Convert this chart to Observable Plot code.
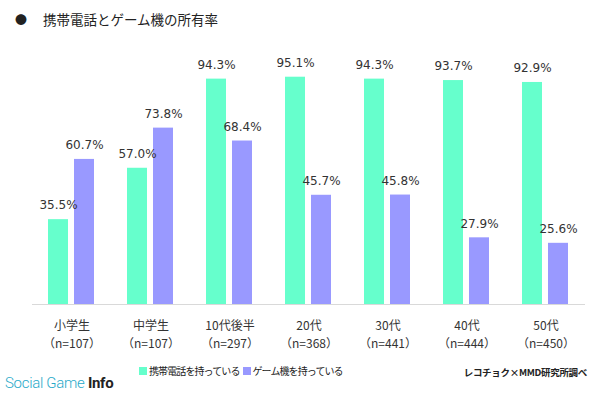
<!DOCTYPE html>
<html>
<head>
<meta charset="utf-8">
<script src="https://cdn.jsdelivr.net/npm/d3@7"></script>
<script src="https://cdn.jsdelivr.net/npm/@observablehq/plot@0.6"></script>
<style>
  html, body { margin: 0; padding: 0; background: #fff; }
  body { width: 600px; height: 395px; position: relative; overflow: hidden; font-family: "Noto Sans CJK JP", sans-serif; color: #222; }
  #title { position: absolute; left: 15px; top: 9px; font-size: 13.5px; line-height: 20px; white-space: nowrap; }
  #title .dot { display: inline-block; width: 28px; font-size: 12px; }
  #chart { position: absolute; left: 0; top: 40px; }
  #legend { position: absolute; left: 139px; top: 363px; font-size: 10px; letter-spacing: -0.9px; line-height: 16px; white-space: nowrap; display: flex; align-items: center; }
  #legend .sw { display: inline-block; width: 8px; height: 8px; margin-right: 2px; }
  #legend .item { display: inline-flex; align-items: center; margin-right: 3px; }
  #source { position: absolute; right: 13px; top: 364px; font-size: 9.5px; letter-spacing: -0.3px; font-weight: bold; line-height: 16px; white-space: nowrap; color: #222; }
  #wm { position: absolute; left: 5px; top: 373px; font-family: Roboto, "Liberation Sans", sans-serif; font-size: 15px; letter-spacing: -0.3px; line-height: 20px; white-space: nowrap; }
  #wm .a { color: #27a9c9; font-weight: 300; }
  #wm .b { color: #222; font-weight: 700; }
</style>
</head>
<body>
<div id="title"><span class="dot">●</span>携帯電話とゲーム機の所有率</div>
<div id="chart"></div>
<div id="legend"></div>
<div id="source">レコチョク×MMD研究所調べ</div>
<div id="wm"><span class="a">Social Game </span><span class="b">Info</span></div>
<script>
const categories = ["小学生", "中学生", "10代後半", "20代", "30代", "40代", "50代"];
const sampleSizes = ["（n=107）", "（n=107）", "（n=297）", "（n=368）", "（n=441）", "（n=444）", "（n=450）"];
const seriesNames = ["携帯電話を持っている", "ゲーム機を持っている"];
const phoneValues = [35.5, 57.0, 94.3, 95.1, 94.3, 93.7, 92.9];
const gameValues = [60.7, 73.8, 68.4, 45.7, 45.8, 27.9, 25.6];
const seriesColors = ["#66FFCC", "#9999FF"];

const data = [];
categories.forEach((c, i) => {
  data.push({cat: c, series: seriesNames[0], value: phoneValues[i]});
  data.push({cat: c, series: seriesNames[1], value: gameValues[i]});
});
const nMap = new Map(categories.map((c, i) => [c, sampleSizes[i]]));

const chart = Plot.plot({
  width: 600,
  height: 320,
  marginLeft: 29,
  marginRight: 12,
  marginTop: 25,
  marginBottom: 56,
  style: {fontFamily: "'DejaVu Sans', 'Noto Sans CJK JP', sans-serif", background: "transparent"},
  fx: {domain: categories, padding: 0, label: null},
  x: {domain: seriesNames, paddingInner: 0.222, paddingOuter: 0.593, axis: null},
  y: {domain: [0, 100], axis: null},
  color: {domain: seriesNames, range: seriesColors},
  marks: [
    Plot.barY(data, {fx: "cat", x: "series", y: "value", fill: "series"}),
    Plot.ruleY([0], {stroke: "#d9d9d9", strokeWidth: 1}),
    Plot.text(data, {fx: "cat", x: "series", y: "value", text: d => d.value.toFixed(1) + "%", dy: -14, fontSize: 12, fill: "#333"}),
    Plot.axisFx({anchor: "bottom", tickSize: 0, tickPadding: 12, lineHeight: 1.55, fontSize: 12, fontFamily: "'Noto Sans CJK JP', sans-serif", fill: "#333", label: null, tickFormat: d => d + "\n" + nMap.get(d)})
  ]
});
document.getElementById("chart").appendChild(chart);

const legend = document.getElementById("legend");
seriesNames.forEach((s, i) => {
  const item = document.createElement("span");
  item.className = "item";
  const sw = document.createElement("span");
  sw.className = "sw";
  sw.style.background = seriesColors[i];
  item.appendChild(sw);
  item.appendChild(document.createTextNode(s));
  legend.appendChild(item);
});
</script>
</body>
</html>
